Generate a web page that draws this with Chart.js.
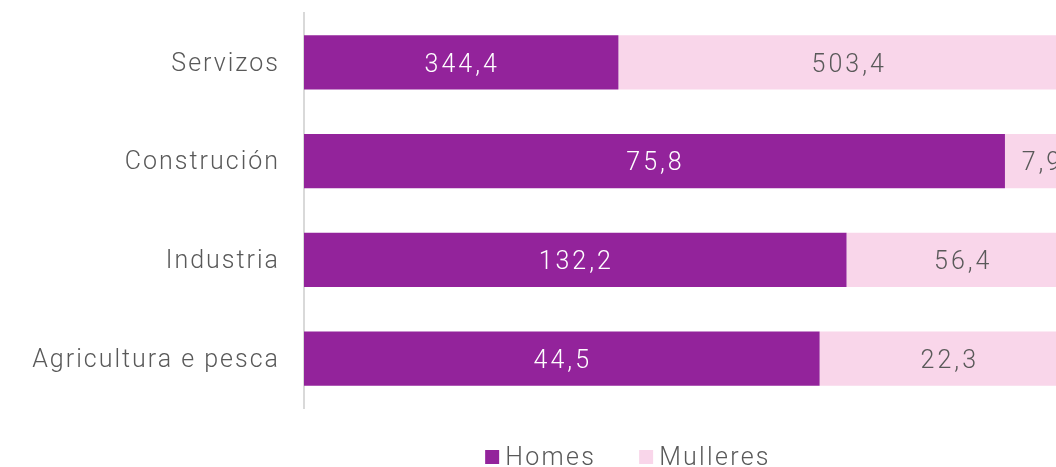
<!DOCTYPE html>
<html><head><meta charset="utf-8">
<script src="https://cdn.jsdelivr.net/npm/chart.js@4.4.1/dist/chart.umd.min.js"></script>
<style>
html,body{margin:0;padding:0;background:#fff;overflow:hidden;}
#wrap{width:1056px;height:467px;overflow:hidden;position:relative;}
#box{position:absolute;left:0;top:0;width:1256px;height:467px;}
</style></head><body>
<div id="wrap"><div id="box"><canvas id="c"></canvas></div></div>
<script>
const categories = ["Servizos", "Construción", "Industria", "Agricultura e pesca"];
const homes = [344.4, 75.8, 132.2, 44.5];
const mulleres = [503.4, 7.9, 56.4, 22.3];
const seriesNames = ["Homes", "Mulleres"];

const FAMILY = "Roboto";
const SIZE = 25;
const WEIGHT = 300;
const FONT = {family: FAMILY, size: SIZE, weight: WEIGHT};
const GRAY = "#595959";
const PURPLE = "#93239B";
const PINK = "#F9D6EA";
const LS_AXIS = "2px";
const LS_DATA = "3px";
const LS_LEGEND = "2.3px";

const share = (a, b) => a.map((v, i) => v / (v + b[i]) * 100);

const spacing = {
  id: "spacing",
  beforeInit(c){ c.ctx.letterSpacing = LS_AXIS; },
  beforeLayout(c){ c.ctx.letterSpacing = LS_AXIS; },
  beforeDraw(c){ c.ctx.letterSpacing = LS_AXIS; }
};

const labelsPlugin = {
  id: "barLabels",
  afterDatasetsDraw(chart){
    const ctx = chart.ctx;
    ctx.save();
    ctx.letterSpacing = LS_DATA;
    ctx.font = `${WEIGHT} ${SIZE}px ${FAMILY}`;
    ctx.textAlign = "center";
    ctx.textBaseline = "middle";
    const raw = [homes, mulleres];
    chart.data.datasets.forEach((ds, di) => {
      const meta = chart.getDatasetMeta(di);
      meta.data.forEach((bar, i) => {
        const x = (bar.x + bar.base) / 2 + 1;
        ctx.fillStyle = di === 0 ? "#ffffff" : GRAY;
        ctx.fillText(raw[di][i].toFixed(1).replace(".", ","), x, bar.y + 3);
      });
    });
    ctx.restore();
  }
};

const legendPlugin = {
  id: "customLegend",
  afterDraw(chart){
    const ctx = chart.ctx;
    ctx.save();
    ctx.letterSpacing = LS_LEGEND;
    ctx.font = `${WEIGHT} ${SIZE}px ${FAMILY}`;
    ctx.textBaseline = "middle";
    ctx.textAlign = "left";
    const box = 14, gapText = 6, gapItem = 43;
    const items = chart.data.datasets.map(ds => ({label: ds.label, color: ds.backgroundColor, w: ctx.measureText(ds.label).width}));
    let total = 0;
    items.forEach((it, i) => { total += box + gapText + it.w + (i < items.length - 1 ? gapItem : 0); });
    let x = chart.width / 2 - total / 2;
    const cy = 457;
    items.forEach(it => {
      ctx.fillStyle = it.color;
      ctx.fillRect(x, cy - box / 2, box, box);
      x += box + gapText;
      ctx.fillStyle = GRAY;
      ctx.fillText(it.label, x, cy + 2);
      x += it.w + gapItem;
    });
    ctx.restore();
  }
};

new Chart(document.getElementById("c"), {
  type: "bar",
  data: {
    labels: categories,
    datasets: [
      {label: seriesNames[0], data: share(homes, mulleres), backgroundColor: PURPLE},
      {label: seriesNames[1], data: share(mulleres, homes), backgroundColor: PINK}
    ]
  },
  options: {
    indexAxis: "y",
    responsive: true,
    maintainAspectRatio: false,
    animation: false,
    layout: {padding: {top: 13, right: 178, left: 0, bottom: 0}},
    scales: {
      x: {
        stacked: true, min: 0, max: 100, display: true,
        grid: {display: false, drawTicks: false},
        border: {display: false},
        ticks: {display: false},
        afterFit(s){ s.height = 59; s.paddingLeft = 0; s.paddingRight = 0; }
      },
      y: {
        stacked: true,
        grid: {display: false, drawTicks: false},
        border: {display: true, color: "#d9d9d9", width: 2},
        ticks: {color: GRAY, font: FONT, padding: 24, labelOffset: 2},
        afterFit(s){ s.width = 304; s.paddingTop = 0; s.paddingBottom = 0; }
      }
    },
    datasets: {bar: {categoryPercentage: 1, barPercentage: 0.547}},
    plugins: {
      legend: {display: false},
      tooltip: {enabled: false}
    }
  },
  plugins: [spacing, labelsPlugin, legendPlugin]
});
</script>
</body></html>
